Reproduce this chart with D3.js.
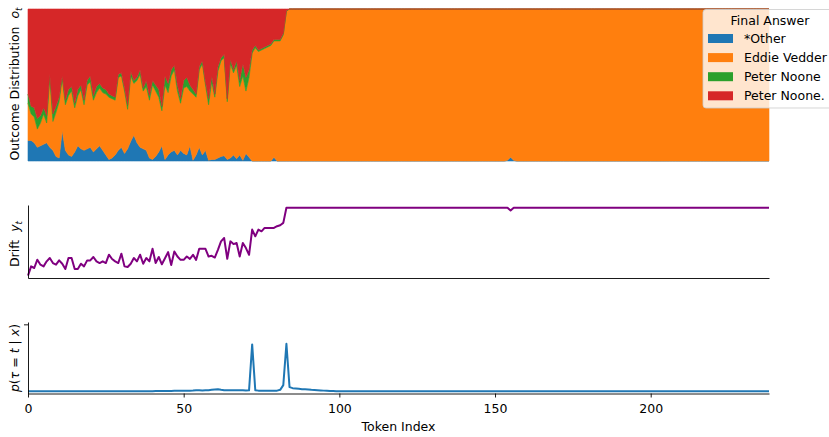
<!DOCTYPE html>
<html>
<head>
<meta charset="utf-8">
<script src="https://cdn.jsdelivr.net/npm/d3@7"></script>
<style>
  body { margin: 0; background: #fff; }
  text { font-family: "DejaVu Sans", sans-serif; fill: #000; }
</style>
</head>
<body>
<div id="grafico"></div>
<script>
// answer categories, stacked bottom -> top
const answers = ["*Other", "Eddie Vedder", "Peter Noone", "Peter Noone."];
const colors = ["#1f77b4", "#ff7f0e", "#2ca02c", "#d62728"];

// outcome distribution per token (rows of 10 tokens)
const otherVals = [
  0.135,0.135,0.12,0.09,0.10,0.11,0.12,0.09,0.07,0.03,
  0.02,0.20,0.07,0.04,0.03,0.06,0.10,0.08,0.07,0.08,
  0.09,0.06,0.08,0.10,0.07,0.04,0.01,0.02,0.04,0.07,
  0.09,0.05,0.08,0.13,0.17,0.12,0.09,0.08,0.07,0.02,
  0.01,0.03,0.06,0.10,0.01,0.04,0.06,0.07,0.04,0.07,
  0.05,0.04,0.10,0.005,0.04,0.09,0.04,0.07,0.005,0.01,
  0.01,0.02,0.03,0.035,0.01,0.02,0.04,0.015,0.04,0.005,
  0.05,0.025,0,0,0,0,0,0,0,0.025,
  0,0,0,0,0,0,0,0,0,0,
  0,0,0,0,0,0,0,0,0,0,
  0,0,0,0,0,0,0,0,0,0,
  0,0,0,0,0,0,0,0,0,0,
  0,0,0,0,0,0,0,0,0,0,
  0,0,0,0,0,0,0,0,0,0,
  0,0,0,0,0,0,0,0,0,0,
  0,0,0,0,0.005,0.025,0.005,0,0,0,
  0,0,0,0,0,0,0,0,0,0,
  0,0,0,0,0,0,0,0,0,0,
  0,0,0,0,0,0,0,0,0,0,
  0,0,0,0,0,0,0,0,0,0,
  0,0,0,0,0,0,0,0,0,0,
  0,0,0,0,0,0,0,0,0,0,
  0,0,0,0,0,0,0,0,0,0,
  0,0,0,0,0,0,0,0,0
];
const eddieVals = [
  0.245,0.175,0.17,0.12,0.15,0.20,0.13,0.46,0.19,0.29,
  0.37,0.34,0.30,0.39,0.43,0.29,0.33,0.39,0.30,0.42,
  0.43,0.34,0.37,0.38,0.38,0.40,0.41,0.39,0.36,0.48,
  0.47,0.41,0.26,0.43,0.34,0.41,0.48,0.38,0.42,0.38,
  0.49,0.43,0.36,0.23,0.49,0.41,0.50,0.53,0.42,0.31,
  0.43,0.45,0.36,0.435,0.38,0.51,0.60,0.43,0.365,0.51,
  0.41,0.57,0.63,0.645,0.38,0.62,0.54,0.615,0.45,0.555,
  0.41,0.525,0.71,0.745,0.72,0.73,0.74,0.75,0.76,0.765,
  0.79,0.79,0.83,0.985,1,1,1,1,1,1,
  1,1,1,1,1,1,1,1,1,1,
  1,1,1,1,1,1,1,1,1,1,
  1,1,1,1,1,1,1,1,1,1,
  1,1,1,1,1,1,1,1,1,1,
  1,1,1,1,1,1,1,1,1,1,
  1,1,1,1,1,1,1,1,1,1,
  1,1,1,1,0.995,0.975,0.995,1,1,1,
  1,1,1,1,1,1,1,1,1,1,
  1,1,1,1,1,1,1,1,1,1,
  1,1,1,1,1,1,1,1,1,1,
  1,1,1,1,1,1,1,1,1,1,
  1,1,1,1,1,1,1,1,1,1,
  1,1,1,1,1,1,1,1,1,1,
  1,1,1,1,1,1,1,1,1,1,
  1,1,1,1,1,1,1,1,1
];
const peterVals = [
  0.06,0.05,0.06,0.07,0.05,0.04,0.05,0.02,0.05,0.04,
  0.03,0.02,0.03,0.04,0.03,0.03,0.04,0.03,0.03,0.03,
  0.04,0.03,0.04,0.03,0.03,0.03,0.02,0.02,0.02,0.02,
  0.02,0.02,0.03,0.03,0.02,0.02,0.03,0.02,0.04,0.03,
  0.03,0.04,0.05,0.03,0.06,0.06,0.04,0.03,0.04,0.03,
  0.05,0.06,0.04,0.03,0.02,0.02,0.02,0.02,0.04,0.04,
  0.02,0.03,0.02,0.02,0.02,0.03,0.02,0.03,0.04,0.08,
  0.09,0.05,0.02,0.015,0.01,0.01,0.01,0.01,0.01,0.01,
  0.01,0.01,0.01,0.005,0,0,0,0,0,0,
  0,0,0,0,0,0,0,0,0,0,
  0,0,0,0,0,0,0,0,0,0,
  0,0,0,0,0,0,0,0,0,0,
  0,0,0,0,0,0,0,0,0,0,
  0,0,0,0,0,0,0,0,0,0,
  0,0,0,0,0,0,0,0,0,0,
  0,0,0,0,0,0,0,0,0,0,
  0,0,0,0,0,0,0,0,0,0,
  0,0,0,0,0,0,0,0,0,0,
  0,0,0,0,0,0,0,0,0,0,
  0,0,0,0,0,0,0,0,0,0,
  0,0,0,0,0,0,0,0,0,0,
  0,0,0,0,0,0,0,0,0,0,
  0,0,0,0,0,0,0,0,0,0,
  0,0,0,0,0,0,0,0,0
];
const peterDotVals = [
  0.56,0.64,0.65,0.72,0.70,0.65,0.70,0.43,0.69,0.64,
  0.58,0.44,0.60,0.53,0.51,0.62,0.53,0.50,0.60,0.47,
  0.44,0.57,0.51,0.49,0.52,0.53,0.56,0.57,0.58,0.43,
  0.42,0.52,0.63,0.41,0.47,0.45,0.40,0.52,0.47,0.57,
  0.47,0.50,0.53,0.64,0.44,0.49,0.40,0.37,0.50,0.59,
  0.47,0.45,0.50,0.53,0.56,0.38,0.34,0.48,0.59,0.44,
  0.56,0.38,0.32,0.30,0.59,0.33,0.40,0.34,0.47,0.36,
  0.45,0.40,0.27,0.24,0.27,0.26,0.25,0.24,0.23,0.20,
  0.20,0.20,0.16,0.01,0,0,0,0,0,0,
  0,0,0,0,0,0,0,0,0,0,
  0,0,0,0,0,0,0,0,0,0,
  0,0,0,0,0,0,0,0,0,0,
  0,0,0,0,0,0,0,0,0,0,
  0,0,0,0,0,0,0,0,0,0,
  0,0,0,0,0,0,0,0,0,0,
  0,0,0,0,0,0,0,0,0,0,
  0,0,0,0,0,0,0,0,0,0,
  0,0,0,0,0,0,0,0,0,0,
  0,0,0,0,0,0,0,0,0,0,
  0,0,0,0,0,0,0,0,0,0,
  0,0,0,0,0,0,0,0,0,0,
  0,0,0,0,0,0,0,0,0,0,
  0,0,0,0,0,0,0,0,0,0,
  0,0,0,0,0,0,0,0,0
];

// drift y_t per token
const driftVals = [
  0.0,0.137,0.113,0.235,0.162,0.137,0.211,0.26,0.186,0.162,
  0.225,0.176,0.098,0.26,0.26,0.098,0.098,0.176,0.137,0.225,
  0.225,0.275,0.211,0.186,0.211,0.186,0.309,0.245,0.211,0.186,
  0.324,0.137,0.127,0.176,0.26,0.211,0.309,0.176,0.26,0.211,
  0.397,0.186,0.275,0.168,0.257,0.347,0.158,0.356,0.282,0.233,
  0.233,0.282,0.248,0.307,0.233,0.396,0.396,0.396,0.282,0.292,
  0.267,0.381,0.505,0.554,0.248,0.505,0.465,0.48,0.282,0.48,
  0.406,0.307,0.678,0.579,0.678,0.653,0.703,0.703,0.703,0.703,
  0.728,0.743,0.777,1,1,1,1,1,1,1,
  1,1,1,1,1,1,1,1,1,1,
  1,1,1,1,1,1,1,1,1,1,
  1,1,1,1,1,1,1,1,1,1,
  1,1,1,1,1,1,1,1,1,1,
  1,1,1,1,1,1,1,1,1,1,
  1,1,1,1,1,1,1,1,1,1,
  1,1,1,1,1,0.96,1,1,1,1,
  1,1,1,1,1,1,1,1,1,1,
  1,1,1,1,1,1,1,1,1,1,
  1,1,1,1,1,1,1,1,1,1,
  1,1,1,1,1,1,1,1,1,1,
  1,1,1,1,1,1,1,1,1,1,
  1,1,1,1,1,1,1,1,1,1,
  1,1,1,1,1,1,1,1,1,1,
  1,1,1,1,1,1,1,1,1
];

// p(tau = t | x) per token
const pVals = [
  0,0,0,0,0,0,0,0,0,0,
  0,0,0,0,0,0,0,0,0,0,
  0,0,0,0,0,0,0,0,0,0,
  0,0,0,0,0,0,0,0,0,0,
  0,0.002,0.002,0.003,0.003,0.004,0.004,0.005,0.005,0.006,
  0.006,0.007,0.008,0.01,0.015,0.012,0.01,0.012,0.015,0.02,
  0.025,0.03,0.02,0.012,0.015,0.012,0.014,0.015,0.015,0.013,
  0.01,0.012,0.70,0.015,0.008,0.006,0.005,0.005,0.005,0.006,
  0.008,0.02,0.09,0.71,0.06,0.045,0.04,0.035,0.03,0.028,
  0.025,0.02,0.017,0.014,0.011,0.008,0.005,0.003,0.002,0,
  0,0,0,0,0,0,0,0,0,0,
  0,0,0,0,0,0,0,0,0,0,
  0,0,0,0,0,0,0,0,0,0,
  0,0,0,0,0,0,0,0,0,0,
  0,0,0,0,0,0,0,0,0,0,
  0,0,0,0,0,0,0,0,0,0,
  0,0,0,0,0,0,0,0,0,0,
  0,0,0,0,0,0,0,0,0,0,
  0,0,0,0,0,0,0,0,0,0,
  0,0,0,0,0,0,0,0,0,0,
  0,0,0,0,0,0,0,0,0,0,
  0,0,0,0,0,0,0,0,0,0,
  0,0,0,0,0,0,0,0,0,0,
  0,0,0,0,0,0,0,0,0
];

const xTicks = [0, 50, 100, 150, 200];

const width = 829;
const height = 437;
const plotLeft = 28;
const plotRight = 769;
const fontSize = 12.5;

const svg = d3.select("#grafico")
              .append("svg")
              .attr("width", width)
              .attr("height", height);

const xScale = d3.scaleLinear()
                 .domain([0, otherVals.length - 1])
                 .range([plotLeft, plotRight]);

// ---- top panel: stacked outcome distribution
const yTop = d3.scaleLinear()
               .domain([0, 1])
               .range([161, 9]);

const rows = otherVals.map((v, i) => ({
    i: i,
    "*Other": v,
    "Eddie Vedder": eddieVals[i],
    "Peter Noone": peterVals[i],
    "Peter Noone.": peterDotVals[i]
}));

const series = d3.stack()
                 .keys(answers)(rows);

const area = d3.area()
               .x(d => xScale(d.data.i))
               .y0(d => yTop(d[0]))
               .y1(d => yTop(d[1]));

svg.append("g")
   .selectAll("path")
   .data(series)
   .join("path")
   .attr("d", area)
   .attr("fill", (d, i) => colors[i])
   .attr("stroke", (d, i) => colors[i])
   .attr("stroke-width", 0.6);

// ---- middle panel: drift
const yDrift = d3.scaleLinear()
                 .domain([-0.034, 1.04])
                 .range([278, 205]);

const driftLine = d3.line()
                    .x((d, i) => xScale(i))
                    .y(d => yDrift(d));

svg.append("path")
   .datum(driftVals)
   .attr("d", driftLine)
   .attr("fill", "none")
   .attr("stroke", "#800080")
   .attr("stroke-width", 2)
   .attr("stroke-linejoin", "round");

svg.append("g")
   .attr("transform", `translate(0, 278)`)
   .call(d3.axisBottom(xScale).tickValues([]).tickSizeOuter(0));

svg.append("g")
   .attr("transform", `translate(${plotLeft}, 0)`)
   .call(d3.axisLeft(yDrift).tickValues([]).tickSizeOuter(0));

// ---- bottom panel: p(tau = t | x)
const yP = d3.scaleLinear()
             .domain([-0.035, 1.035])
             .range([393.5, 322]);

const pLine = d3.line()
                .x((d, i) => xScale(i))
                .y(d => yP(d));

svg.append("path")
   .datum(pVals)
   .attr("d", pLine)
   .attr("fill", "none")
   .attr("stroke", "#1f77b4")
   .attr("stroke-width", 2)
   .attr("stroke-linejoin", "round");

const xAxis = svg.append("g")
                 .attr("transform", `translate(0, 393.5)`)
                 .call(d3.axisBottom(xScale)
                         .tickValues(xTicks)
                         .tickSize(4)
                         .tickPadding(6.5)
                         .tickSizeOuter(0));

xAxis.selectAll("text")
     .attr("font-size", fontSize)
     .attr("font-family", "DejaVu Sans");

svg.append("g")
   .attr("transform", `translate(${plotLeft}, 0)`)
   .call(d3.axisLeft(yP).tickValues([1]).tickFormat("").tickSize(4).tickSizeOuter(0));

svg.selectAll(".domain, .tick line")
   .attr("stroke", "#000")
   .attr("stroke-width", 0.9);

// ---- axis labels
svg.append("text")
   .attr("x", (plotLeft + plotRight) / 2)
   .attr("y", 430.5)
   .attr("text-anchor", "middle")
   .attr("font-size", fontSize)
   .text("Token Index");

function yLabel(cx, cy) {
    return svg.append("text")
              .attr("transform", `translate(${cx}, ${cy}) rotate(-90)`)
              .attr("text-anchor", "middle")
              .attr("dy", "0.35em")
              .attr("font-size", fontSize);
}

const topLabel = yLabel(15, 84);
topLabel.append("tspan").text("Outcome Distribution\u00a0\u00a0");
topLabel.append("tspan").attr("font-style", "italic").text("o");
topLabel.append("tspan").attr("font-style", "italic").attr("font-size", "0.7em").attr("dy", "0.25em").text("t");

const midLabel = yLabel(15, 244);
midLabel.append("tspan").text("Drift\u00a0\u00a0");
midLabel.append("tspan").attr("font-style", "italic").text("y");
midLabel.append("tspan").attr("font-style", "italic").attr("font-size", "0.7em").attr("dy", "0.25em").text("t");

const botLabel = yLabel(15, 358);
botLabel.append("tspan").attr("font-style", "italic").text("p");
botLabel.append("tspan").text("(");
botLabel.append("tspan").attr("font-style", "italic").text("τ");
botLabel.append("tspan").text(" = ");
botLabel.append("tspan").attr("font-style", "italic").text("t");
botLabel.append("tspan").text(" | ");
botLabel.append("tspan").attr("font-style", "italic").text("x");
botLabel.append("tspan").text(")");

// ---- legend
const legend = svg.append("g")
                  .attr("transform", `translate(703, 9.5)`);

legend.append("rect")
      .attr("width", 134)
      .attr("height", 98.5)
      .attr("rx", 3)
      .attr("fill", "#fff")
      .attr("fill-opacity", 0.8)
      .attr("stroke", "#ccc")
      .attr("stroke-opacity", 0.8);

legend.append("text")
      .attr("x", 67)
      .attr("y", 15)
      .attr("text-anchor", "middle")
      .attr("font-size", fontSize)
      .text("Final Answer");

const items = legend.selectAll("g.item")
                    .data(answers)
                    .join("g")
                    .attr("class", "item")
                    .attr("transform", (d, i) => `translate(0, ${29 + i * 19.1})`);

items.append("rect")
     .attr("x", 5)
     .attr("y", -4.5)
     .attr("width", 25)
     .attr("height", 9)
     .attr("fill", (d, i) => colors[i]);

items.append("text")
     .attr("x", 41)
     .attr("y", 4.5)
     .attr("font-size", fontSize)
     .text(d => d);
</script>
</body>
</html>
